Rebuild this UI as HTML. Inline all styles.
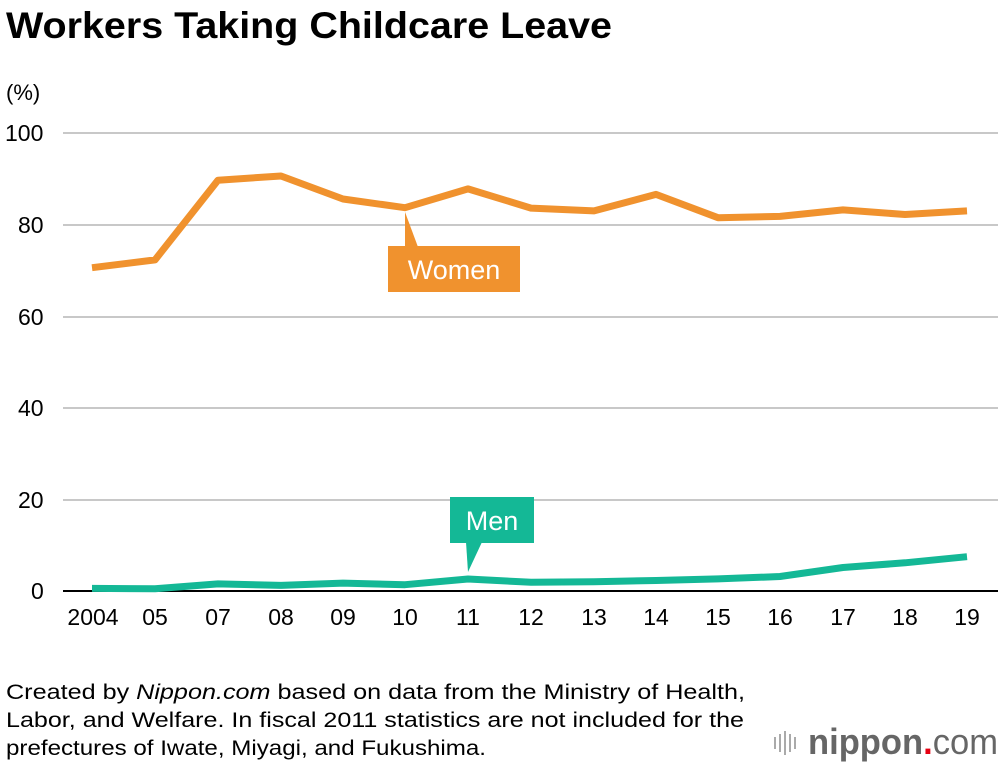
<!DOCTYPE html>
<html><head><meta charset="utf-8"><style>
body{margin:0;background:#fff;}
svg{display:block;font-family:"Liberation Sans",Arial,sans-serif;}
</style></head><body>
<svg width="1000" height="764" viewBox="0 0 1000 764">
<text x="6" y="38" font-size="37" font-weight="bold" fill="#000" textLength="606" lengthAdjust="spacingAndGlyphs">Workers Taking Childcare Leave</text>
<text x="6" y="100" font-size="22" fill="#000">(%)</text>
<g stroke="#c8c8c8" stroke-width="2">
<line x1="63" y1="133" x2="998" y2="133"/>
<line x1="63" y1="225" x2="998" y2="225"/>
<line x1="63" y1="317" x2="998" y2="317"/>
<line x1="63" y1="408" x2="998" y2="408"/>
<line x1="63" y1="500" x2="998" y2="500"/>
</g>
<line x1="63" y1="591" x2="998" y2="591" stroke="#000" stroke-width="2"/>
<g font-size="23" fill="#000">
<text x="5" y="141">100</text>
<text x="18" y="233">80</text>
<text x="18" y="325">60</text>
<text x="18" y="416">40</text>
<text x="18" y="508">20</text>
<text x="31" y="599">0</text>
</g>
<g font-size="23" fill="#000" text-anchor="middle">
<text x="93" y="625">2004</text><text x="155" y="625">05</text><text x="218" y="625">07</text>
<text x="281" y="625">08</text><text x="343" y="625">09</text><text x="405" y="625">10</text>
<text x="468" y="625">11</text><text x="531" y="625">12</text><text x="594" y="625">13</text>
<text x="656" y="625">14</text><text x="718" y="625">15</text><text x="780" y="625">16</text>
<text x="843" y="625">17</text><text x="905" y="625">18</text><text x="967" y="625">19</text>
</g>
<polyline fill="none" stroke="#f0922e" stroke-width="7" stroke-linejoin="round" points="92,267.7 155,259.9 218,180.2 281,176 343,199 405,207.7 468,188.9 531,208.1 594,210.9 656,194.4 718,217.7 780,216.4 843,209.9 905,214.5 967,210.9"/>
<polyline fill="none" stroke="#14b896" stroke-width="7" stroke-linejoin="round" points="92,588.4 155,588.7 218,583.9 281,585.4 343,583.1 405,584.7 468,579 531,582.3 594,581.7 656,580.5 718,578.9 780,576.5 843,567.5 905,562.8 967,556.7"/>
<polygon points="405,212 405,247 418,247" fill="#f0922e"/>
<rect x="388" y="246" width="132" height="46" fill="#f0922e"/>
<text x="454" y="279" font-size="27" fill="#fff" text-anchor="middle">Women</text>
<rect x="450" y="497" width="84" height="46" fill="#14b896"/>
<polygon points="466,542 482,542 468,572" fill="#14b896"/>
<text x="492" y="530" font-size="27" fill="#fff" text-anchor="middle">Men</text>
<g font-size="21" fill="#000">
<text x="6" y="699" textLength="739" lengthAdjust="spacingAndGlyphs">Created by <tspan font-style="italic">Nippon.com</tspan> based on data from the Ministry of Health,</text>
<text x="6" y="727" textLength="738" lengthAdjust="spacingAndGlyphs">Labor, and Welfare. In fiscal 2011 statistics are not included for the</text>
<text x="6" y="755" textLength="480" lengthAdjust="spacingAndGlyphs">prefectures of Iwate, Miyagi, and Fukushima.</text>
</g>
<g stroke="#aaa" stroke-width="2">
<line x1="775" y1="737" x2="775" y2="749"/><line x1="780" y1="734" x2="780" y2="752"/>
<line x1="785" y1="731" x2="785" y2="755"/><line x1="790" y1="734" x2="790" y2="752"/>
<line x1="795" y1="737" x2="795" y2="749"/>
</g>
<text x="808" y="754" font-size="36" fill="#666" font-weight="bold" textLength="190" lengthAdjust="spacingAndGlyphs">nippon<tspan fill="#e60012">.</tspan><tspan font-weight="normal">com</tspan></text>
</svg>
</body></html>
